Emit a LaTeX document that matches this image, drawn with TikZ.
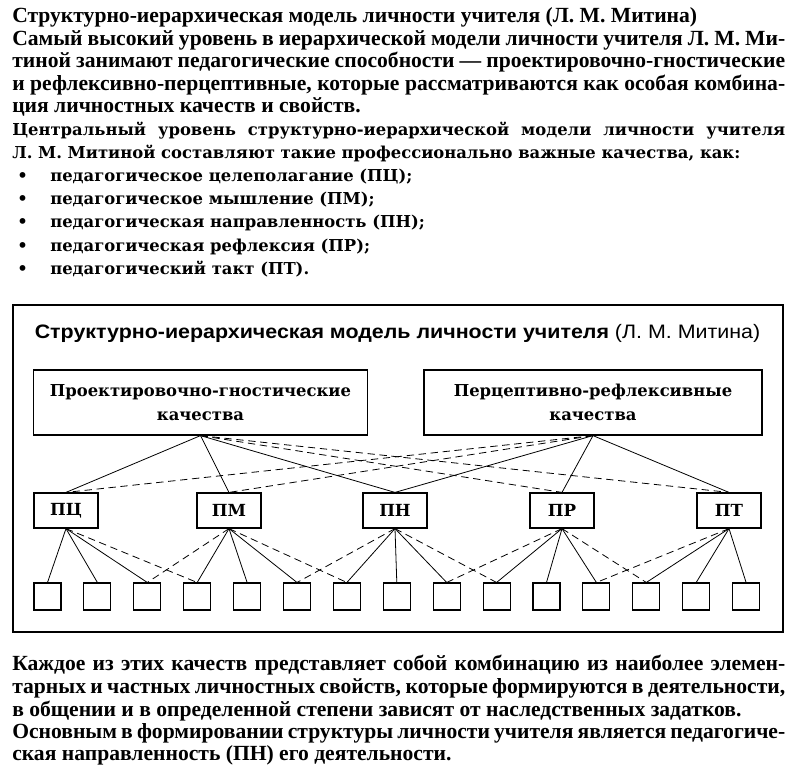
\documentclass[tikz,border=0pt]{standalone}
\usepackage{fontspec}
\setmainfont{Liberation Serif}
\newfontfamily\bodyfont{Liberation Serif}
\newfontfamily\listfont{DejaVu Serif}
\newfontfamily\headfont{Liberation Sans}[FakeStretch=1.1]

% one justified line of the page text
\newcommand{\jline}[1]{\makebox[579.75pt][s]{#1}}

\tikzset{
  txt/.style={anchor=base west, inner sep=0pt},
  body/.style={txt, font=\bodyfont\bfseries\fontsize{16.2}{18}\selectfont},
  wide/.style={txt, font=\listfont\bfseries\fontsize{12.3}{15}\selectfont},
  upper/.style={draw, line width=0.9pt, minimum height=48.75pt, align=center,
                font=\listfont\bfseries\fontsize{12.3}{18}\selectfont},
  mid/.style={draw, line width=0.9pt, minimum width=48pt, minimum height=26.25pt,
              font=\listfont\bfseries\fontsize{12.5}{15}\selectfont},
  leaf/.style={draw, line width=0.8pt, minimum size=20.25pt, inner sep=0pt},
  link/.style={line width=0.6pt},
  dlink/.style={link, dash pattern=on 5.5pt off 3.5pt}
}

\begin{document}
\begin{tikzpicture}[x=0.75pt, y=-0.75pt]
  \path[use as bounding box] (0,0) rectangle (799,768);

  % Text above the diagram
  \node[body] (l1) at (12,22) {Структурно-иерархическая модель личности учителя (Л. М. Митина)};
  \node[body] (l2) at (12,45) {\jline{Самый высокий уровень в иерархической модели личности учителя Л. М. Ми-}};
  \node[body] (l3) at (12,67) {\jline{тиной занимают педагогические способности — проектировочно-гностические}};
  \node[body] (l4) at (12,90) {\jline{и рефлексивно-перцептивные, которые рассматриваются как особая комбина-}};
  \node[body] (l5) at (12,112) {ция личностных качеств и свойств.};
  \node[wide] (l6) at (12,135) {\jline{Центральный уровень структурно-иерархической модели личности учителя}};
  \node[wide] (l7) at (12,158) {Л. М. Митиной составляют такие профессионально важные качества, как:};
  \foreach \t [count=\i] in {педагогическое целеполагание (ПЦ);, педагогическое мышление (ПМ);,
      педагогическая направленность (ПН);, педагогическая рефлексия (ПР);, педагогический такт (ПТ).} {
    \node[wide] (dot\i) at (17,{158+23.3*\i}) {•};
    \node[wide] (item\i) at (50,{158+23.3*\i}) {\t};
  }

  % Frame with the model
  \draw[line width=1.5pt] (13,305) rectangle (783,632);
  \node[font=\headfont\fontsize{14.6}{16}\selectfont] (head) at (397.5,333)
    {\textbf{Структурно-иерархическая модель личности учителя} (Л. М. Митина)};

  \node[upper, minimum width=250pt]   (pg) at (200.5,402.5) {Проектировочно-гностические\\качества};
  \node[upper, minimum width=253.5pt] (rp) at (593,402.5)   {Перцептивно-рефлексивные\\качества};

  \node[mid] (pc) at (66,510.5)  {ПЦ};
  \node[mid] (pm) at (229,510.5) {ПМ};
  \node[mid] (pn) at (395,510.5) {ПН};
  \node[mid] (pr) at (562,510.5) {ПР};
  \node[mid] (pt) at (729,510.5) {ПТ};

  \foreach \i in {0,...,14}
    \node[leaf] (s\i) at ({47.5+49.9*\i},596.5) {};

  % Upper level
  \foreach \m in {pc,pm,pn} \draw[link] (pg.south) -- (\m.north);
  \foreach \m in {pr,pt}    \draw[dlink] (pg.south) -- (\m.north);
  \foreach \m in {pn,pr,pt} \draw[link] (rp.south) -- (\m.north);
  \foreach \m in {pc,pm}    \draw[dlink] (rp.south) -- (\m.north);

  % Lower level
  \foreach \m/\s in {pc/0,pc/1,pc/2,pm/3,pm/4,pm/5,pn/6,pn/7,pn/8,pr/9,pr/10,pr/11,pt/12,pt/13,pt/14}
    \draw[link] (\m.south) -- (s\s.north);
  \foreach \m/\s in {pc/3,pm/2,pm/6,pn/5,pn/9,pr/8,pr/12,pt/11}
    \draw[dlink] (\m.south) -- (s\s.north);

  % Text below the diagram
  \node[body] (b1) at (12,670) {\jline{Каждое из этих качеств представляет собой комбинацию из наиболее элемен-}};
  \node[body] (b2) at (12,693) {\jline{тарных и частных личностных свойств, которые формируются в деятельности,}};
  \node[body] (b3) at (12,716) {в общении и в определенной степени зависят от наследственных задатков.};
  \node[body] (b4) at (12,738) {\jline{Основным в формировании структуры личности учителя является педагогиче-}};
  \node[body] (b5) at (12,760) {ская направленность (ПН) его деятельности.};
\end{tikzpicture}
\end{document}
